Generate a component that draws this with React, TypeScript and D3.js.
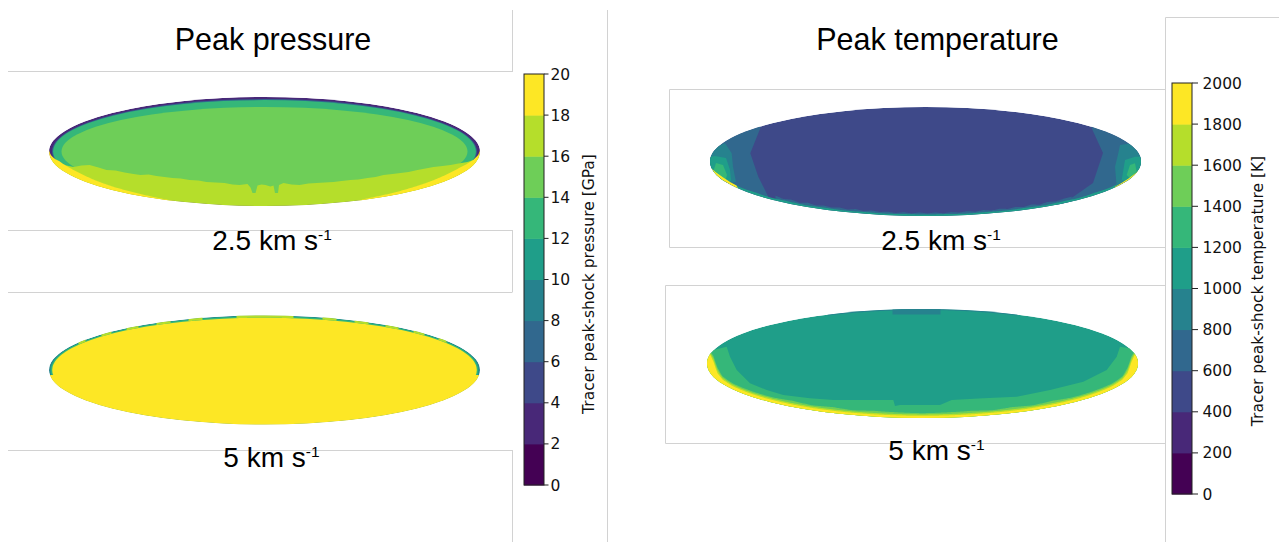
import React from "react";
import * as d3 from "d3";

type Pt = [number, number];
type Shell = { band: number; a: number; b: number };
type Zone = {
  band: number;
  fill: "below" | "above" | "closed";
  ref?: "bottom" | "top";
  pts: Pt[];
};

// Colour-bar level edges (contour levels)
const pressureLevels = [0, 2, 4, 6, 8, 10, 12, 14, 16, 18, 20];
const temperatureLevels = [0, 200, 400, 600, 800, 1000, 1200, 1400, 1600, 1800, 2000];

const panelTitles = ["Peak pressure", "Peak temperature"];
const impactSpeeds = ["2.5", "5"];
const colorbarLabels = ["Tracer peak-shock pressure [GPa]", "Tracer peak-shock temperature [K]"];

// Projectile cross-section half-width / half-thickness, in tracer cells
const HALF_WIDTH = 215.5;
const HALF_THICK = 54.5;

// ---- 2.5 km/s, peak pressure: band index (0..9) of each zone ----
const pressureSlowShells: Shell[] = [
  { band: 1, a: 215.5, b: 54.5 },
  { band: 3, a: 212.4, b: 52.4 },
  { band: 6, a: 211.4, b: 51.4 },
  { band: 7, a: 203, b: 44.5 },
];
const pressureSlowFront: Pt[] = [
  [-225, 0.5], [-212, 8], [-206, 11], [-198, 14], [-191, 15.5], [-183, 14], [-175, 13.5],
  [-166, 16], [-158, 18.5], [-149, 19], [-140, 21], [-131, 22.5], [-124, 23.5], [-116, 23],
  [-108, 24.5], [-100, 25.5], [-92, 26.5], [-84, 27], [-75, 28.5], [-66, 29], [-58, 30.5],
  [-49, 31], [-40, 31.5], [-32, 33], [-25, 33.5], [-17, 32.5], [-14, 36], [-12, 41.5],
  [-9, 41.5], [-7, 34], [-3, 33], [1, 33.5], [6, 35], [9, 34], [10.5, 41.5], [13.5, 41.5],
  [14.5, 33.5], [19, 31.5], [27, 33], [35, 33.5], [44, 32], [52, 31.5], [60, 31], [69, 30.5],
  [77, 29.5], [86, 28.5], [94, 28], [103, 26.5], [111, 25.5], [119, 23.5], [128, 22.5],
  [136, 21.5], [144, 20.5], [153, 18.5], [161, 17], [169, 15.5], [178, 14.5], [186, 13.5],
  [194, 12], [203, 10.5], [209, 8.5], [225, 0.5],
];
const pressureSlowBaseRim: Pt[] = [
  [-216, 3], [-212, 4.5], [-205, 7], [-195, 7], [-185, 6.5], [-170, 5], [-150, 3.5], [-130, 2.5],
  [-110, 1.2], [-90, 0], [-80, -1], [90, -1], [100, 0.8], [130, 2.5], [160, 4.5], [180, 6],
  [195, 7], [205, 6], [212, 4.5], [216, 3],
];
const pressureSlowZones: Zone[] = [
  { band: 8, fill: "below", pts: pressureSlowFront },
  { band: 9, fill: "below", ref: "bottom", pts: pressureSlowBaseRim },
];

// ---- 5 km/s, peak pressure ----
const pressureFastShells: Shell[] = [
  { band: 4, a: 215.5, b: 54.5 },
  { band: 5, a: 214.3, b: 54 },
  { band: 6, a: 213.5, b: 53.5 },
  { band: 9, a: 212.3, b: 52.3 },
];
const pressureFastRimDashes: Pt[] = [
  [-186, -179], [-163, -153], [-138, -126], [-108, -94], [-76, -62], [-28, 29],
  [58, 72], [90, 104], [121, 134], [149, 160], [174, 182],
];
const pressureFastZones: Zone[] = [
  { band: 9, fill: "below", pts: [[-230, 5], [230, 5]] },
  ...pressureFastRimDashes.map(([x0, x1]): Zone => ({
    band: 8,
    fill: "above",
    ref: "top",
    pts: [[x0, 2.2], [x1, 2.2]],
  })),
];

// ---- 2.5 km/s, peak temperature ----
const temperatureSlowShells: Shell[] = [{ band: 2, a: 215.5, b: 54.5 }];
const temperatureSlowBaseBand: Pt[] = [
  [-150, 5], [-142, 3.5], [-134, 4.5], [-126, 3], [-118, 4.5], [-110, 3], [-102, 4], [-94, 3],
  [-86, 4], [-78, 2.8], [-70, 4], [-62, 2.8], [-54, 3.8], [-46, 2.8], [-38, 3.5], [-30, 2.5],
  [-22, 3.5], [-14, 2.5], [-6, 3.5], [2, 2.5], [10, 3.5], [18, 2.5], [26, 3.5], [34, 2.8],
  [42, 3.8], [50, 2.8], [58, 4], [66, 2.8], [74, 4], [82, 3], [90, 4], [98, 3], [106, 4.5],
  [114, 3], [122, 4.5], [130, 3.5], [138, 4.5], [146, 5],
];
const temperatureSlowBaseRim: Pt[] = [
  [-205, 3], [-195, 2.5], [-185, 2], [-170, 2.5], [-155, 1.8], [-140, 2.2], [-120, 1.6],
  [-100, 2], [-80, 1.5], [-60, 1.8], [-40, 1.4], [-20, 1.7], [0, 1.4], [20, 1.7], [40, 1.4],
  [60, 1.8], [80, 1.5], [100, 2], [120, 1.6], [140, 2.2], [155, 1.8], [170, 2.5], [185, 2],
  [195, 2.5], [205, 3],
];
const temperatureSlowZones: Zone[] = [
  {
    band: 3, fill: "closed",
    pts: [[-240, -60], [-165.2, -60], [-165.2, -33.2], [-175.2, -8.2], [-167.2, 15.2],
      [-157.2, 35.2], [-142.5, 43.5], [-142.5, 60], [-240, 60]],
  },
  {
    band: 3, fill: "closed",
    pts: [[240, -60], [166.2, -60], [166.2, -33.2], [177.5, -8.5], [167.5, 21.5],
      [147.5, 35.5], [130, 42], [130, 60], [240, 60]],
  },
  { band: 3, fill: "below", ref: "bottom", pts: temperatureSlowBaseBand },
  { band: 5, fill: "below", ref: "bottom", pts: temperatureSlowBaseRim },
  {
    band: 4, fill: "closed",
    pts: [[-220, -11.5], [-208.8, -14.8], [-200.5, -18.2], [-193.8, -8.2], [-192.5, 5.2],
      [-189.5, 20.5], [-202.5, 22.5], [-220, 8.5]],
  },
  {
    band: 5, fill: "closed",
    pts: [[-220, -3.5], [-210.5, -5.5], [-199.5, -3.5], [-195.5, 8.5], [-194.5, 19.5],
      [-205.5, 18.5], [-220, 6.5]],
  },
  {
    band: 6, fill: "closed",
    pts: [[-209.5, 1.5], [-202.5, 3.5], [-198.5, 13.5], [-200.5, 20.5], [-213.5, 14.5]],
  },
  {
    band: 9, fill: "below",
    pts: [[-216, 5], [-210, 10.5], [-203, 15.5], [-195, 20.8], [-189, 24], [-186, 30]],
  },
  {
    band: 4, fill: "closed",
    pts: [[220, -11.5], [206.2, -18.2], [194.5, -16.5], [192.8, -8.2], [189.5, 5.2],
      [191.2, 25.2], [201.2, 21.8], [212.5, 8.5], [220, 8.5]],
  },
  {
    band: 5, fill: "closed",
    pts: [[220, -4.8], [209.5, -4.8], [199.5, -1.5], [196.2, 18.5], [202.8, 20.2],
      [212.8, 10.2], [220, 10]],
  },
  {
    band: 6, fill: "closed",
    pts: [[204.5, 3.5], [209.5, 1.8], [211.2, 10.2], [204.5, 16.8], [201.2, 13.5]],
  },
  {
    band: 9, fill: "below",
    pts: [[186, 30], [190, 25], [196, 21.5], [203, 17], [211, 11], [216, 5]],
  },
];

// ---- 5 km/s, peak temperature ----
const temperatureFastShells: Shell[] = [{ band: 5, a: 215.5, b: 54.5 }];
const temperatureFastFront: Pt[] = [
  [-230, -14], [-209.2, -13.5], [-195.8, -16.8], [-192.5, -6.8], [-185.8, 6.5], [-172.5, 19.8],
  [-155.8, 26.5], [-139.2, 31.5], [-112.5, 34.8], [-89.2, 36.5], [-55.8, 36.5], [-29.2, 36.5],
  [-27.5, 42.5], [-22.5, 41.5], [17.5, 41.5], [29.2, 36.5], [60.8, 34.8], [94.2, 33.2],
  [127.5, 26.5], [160.8, 18.2], [184.2, 6.5], [194.2, -6.8], [197.5, -16.8], [207.5, -15.2],
  [230, -15],
];
const temperatureFastBand7: Pt[] = [
  [-218, 21], [-215, 22], [-212, 22], [-209, 20.5], [-205, 12.5], [-200, 7.5], [-190, 6],
  [-170, 5.6], [-150, 5.3], [-130, 6.2], [-110, 5], [-90, 6], [-70, 4.8], [-50, 5.8], [0, 4.8],
  [50, 5.8], [70, 4.8], [90, 6], [110, 5], [130, 6.2], [150, 5.3], [170, 5.6], [190, 6],
  [200, 7.5], [205, 12.5], [209, 20.5], [212, 22], [215, 22], [218, 21],
];
const temperatureFastBand8: Pt[] = [
  [-218, 19], [-215, 19.5], [-212, 20], [-209, 18], [-205, 10], [-200, 6], [-190, 4.6],
  [-170, 4.2], [-150, 4], [-100, 3.7], [0, 3.6], [100, 3.7], [150, 4], [170, 4.2], [190, 4.6],
  [200, 6], [205, 10], [209, 18], [212, 20], [215, 19.5], [218, 19],
];
const temperatureFastBand9: Pt[] = [
  [-218, 17], [-215, 17], [-212, 18], [-209, 15], [-205, 7], [-200, 4.3], [-190, 3.2],
  [-170, 2.8], [-150, 2.6], [-100, 2.3], [0, 2.2], [100, 2.3], [150, 2.6], [170, 2.8],
  [190, 3.2], [200, 4.3], [205, 7], [209, 15], [212, 18], [215, 17], [218, 17],
];
const temperatureFastZones: Zone[] = [
  { band: 4, fill: "above", ref: "top", pts: [[-95, 1], [95, 1]] },
  { band: 4, fill: "closed", pts: [[-30, -70], [-30, -49], [18, -49], [18, -70]] },
  { band: 6, fill: "below", pts: temperatureFastFront },
  { band: 7, fill: "below", ref: "bottom", pts: temperatureFastBand7 },
  { band: 8, fill: "below", ref: "bottom", pts: temperatureFastBand8 },
  { band: 9, fill: "below", ref: "bottom", pts: temperatureFastBand9 },
];

const bandColor = (band: number) => d3.interpolateViridis(band / 9);

const rimDepth = (u: number) =>
  Math.abs(u) >= HALF_WIDTH ? 0 : HALF_THICK * Math.sqrt(1 - (u / HALF_WIDTH) ** 2);

function Projectile({
  id, cx, cy, shells, zones,
}: { id: string; cx: number; cy: number; shells: Shell[]; zones: Zone[] }) {
  const x = d3.scaleLinear().domain([-HALF_WIDTH, HALF_WIDTH]).range([cx - HALF_WIDTH, cx + HALF_WIDTH]);
  const y = d3.scaleLinear().domain([-HALF_THICK, HALF_THICK]).range([cy - HALF_THICK, cy + HALF_THICK]);
  const line = d3.line<Pt>().x((d) => x(d[0])).y((d) => y(d[1]));

  const outline = (z: Zone): Pt[] => {
    let pts: Pt[] = z.pts;
    if (z.ref) {
      const xs = z.pts.map((p) => p[0]);
      const depth = d3.scaleLinear().domain(xs).range(z.pts.map((p) => p[1]));
      const us = d3.range(xs[0], xs[xs.length - 1], 1).concat([xs[xs.length - 1]]);
      pts = us.map((u): Pt => [
        u,
        z.ref === "bottom" ? rimDepth(u) - depth(u) : -rimDepth(u) + depth(u),
      ]);
    }
    const x0 = pts[0][0];
    const x1 = pts[pts.length - 1][0];
    if (z.fill === "below") return [...pts, [x1, HALF_THICK + 20], [x0, HALF_THICK + 20]];
    if (z.fill === "above") return [...pts, [x1, -HALF_THICK - 20], [x0, -HALF_THICK - 20]];
    return pts;
  };

  return (
    <g>
      <defs>
        <clipPath id={id}>
          <ellipse cx={x(0)} cy={y(0)} rx={x(HALF_WIDTH) - x(0)} ry={y(HALF_THICK) - y(0)} />
        </clipPath>
      </defs>
      <g clipPath={`url(#${id})`}>
        {shells.map((s, i) => (
          <ellipse key={`s${i}`} cx={x(0)} cy={y(0)} rx={x(s.a) - x(0)} ry={y(s.b) - y(0)} fill={bandColor(s.band)} />
        ))}
        {zones.map((z, i) => (
          <path key={`z${i}`} d={(line(outline(z)) || "") + "Z"} fill={bandColor(z.band)} />
        ))}
      </g>
    </g>
  );
}

function Colorbar({
  left, top, bottom, levels, label, labelX, labelY, tickLen, pad,
}: {
  left: number; top: number; bottom: number; levels: number[]; label: string;
  labelX: number; labelY: number; tickLen: number; pad: number;
}) {
  const width = 20;
  const y = d3.scaleLinear().domain([levels[0], levels[levels.length - 1]]).range([bottom, top]);
  const n = levels.length - 1;
  return (
    <g fontFamily="DejaVu Sans, sans-serif" fontSize={15.5} fill="#111">
      {levels.slice(0, -1).map((v, i) => (
        <rect key={v} x={left} y={y(levels[i + 1])} width={width} height={y(v) - y(levels[i + 1]) + 0.5}
          fill={bandColor((i * 9) / (n - 1))} />
      ))}
      <rect x={left} y={top} width={width} height={bottom - top} fill="none" stroke="#222" strokeWidth={1} />
      {levels.map((v) => (
        <g key={`t${v}`}>
          <line x1={left + width} x2={left + width + tickLen} y1={y(v)} y2={y(v)} stroke="#222" strokeWidth={1} />
          <text x={left + width + tickLen + pad} y={y(v)} dy="0.36em">{v}</text>
        </g>
      ))}
      <text transform={`translate(${labelX},${labelY}) rotate(-90)`} textAnchor="middle" dy="0.36em">
        {label}
      </text>
    </g>
  );
}

function SpeedLabel({ x, y, speed }: { x: number; y: number; speed: string }) {
  return (
    <text x={x} y={y} textAnchor="middle" fontSize={28}>
      {speed} km s<tspan fontSize={15.5} dy={-10}>-1</tspan>
    </text>
  );
}

const frameLines = [
  "M512.5,10V72", "M8,71.5H512.5",
  "M8,230.5H512.5", "M512.5,230V292", "M8,292.5H512.5",
  "M8,450.5H512.5", "M512.5,450V542",
  "M607.5,10V542",
  "M669.5,89.5H1165", "M669.5,89.5V247.5", "M669.5,247.5H1165",
  "M665.5,285.5H1165", "M665.5,285.5V443.5", "M665.5,443.5H1165",
  "M1165.5,17.5V542", "M1165.5,17.5H1279",
];

export default function App() {
  return (
    <svg width={1279} height={542} style={{ position: "absolute", left: 0, top: 0, background: "#fff" }}
      fontFamily="Liberation Sans, Arial, Helvetica, sans-serif">
      <rect width={1279} height={542} fill="#fff" />
      {frameLines.map((d) => (
        <path key={d} d={d} stroke="#d2d2d2" strokeWidth={1} fill="none" />
      ))}

      <Projectile id="p-slow" cx={264.5} cy={151.5} shells={pressureSlowShells} zones={pressureSlowZones} />
      <Projectile id="p-fast" cx={264.5} cy={370} shells={pressureFastShells} zones={pressureFastZones} />
      <Projectile id="t-slow" cx={925.5} cy={161.5} shells={temperatureSlowShells} zones={temperatureSlowZones} />
      <Projectile id="t-fast" cx={922.5} cy={363.5} shells={temperatureFastShells} zones={temperatureFastZones} />

      <g fill="#000">
        <text x={273} y={50} textAnchor="middle" fontSize={30.5}>{panelTitles[0]}</text>
        <text x={937.5} y={50} textAnchor="middle" fontSize={30.5}>{panelTitles[1]}</text>
        <SpeedLabel x={272} y={250} speed={impactSpeeds[0]} />
        <SpeedLabel x={271.5} y={466.5} speed={impactSpeeds[1]} />
        <SpeedLabel x={941} y={250} speed={impactSpeeds[0]} />
        <SpeedLabel x={936.5} y={460} speed={impactSpeeds[1]} />
      </g>

      <Colorbar left={524} top={74} bottom={485} levels={pressureLevels} label={colorbarLabels[0]}
        labelX={588.5} labelY={284} tickLen={4.5} pad={2} />
      <Colorbar left={1172} top={83} bottom={494} levels={temperatureLevels} label={colorbarLabels[1]}
        labelX={1257} labelY={291} tickLen={6} pad={4.5} />
    </svg>
  );
}
